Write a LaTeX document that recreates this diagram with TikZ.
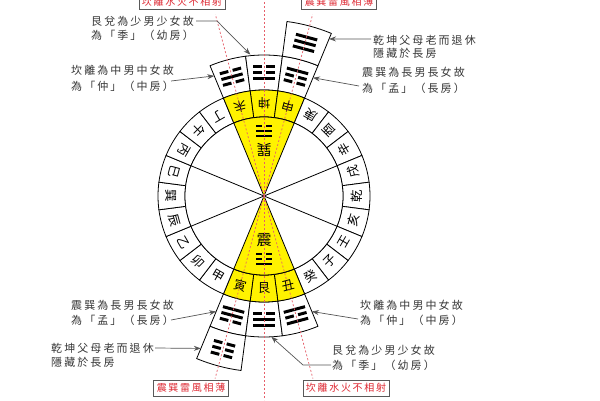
\documentclass[tikz,border=0pt]{standalone}
\usepackage{fontspec}
\setmainfont{Noto Sans CJK TC}
\newfontfamily\annfont{Noto Sans CJK TC}[LetterSpace=19]
\newfontfamily\boxfont{Noto Sans CJK TC}[LetterSpace=17]
\usetikzlibrary{calc,arrows.meta}
\definecolor{yel}{RGB}{255,242,0}
\definecolor{dotred}{RGB}{230,95,105}
\definecolor{boxred}{RGB}{222,40,50}
\definecolor{anngray}{RGB}{55,55,55}
\definecolor{arrgray}{RGB}{85,85,85}
\newcommand\tgl[4]{%
\ifnum#2=1 \fill (-#3,#1-#4) rectangle (#3,#1+#4);%
\else \fill (-#3,#1-#4) rectangle (-#3*0.2,#1+#4); \fill (#3*0.2,#1-#4) rectangle (#3,#1+#4);\fi}
\newcommand\trig[8]{%
\begin{scope}[shift={($(C)+(#1:#2)$)}, rotate=#1+90]
\tgl{-#4}{#6}{#3}{#5}\tgl{0}{#7}{#3}{#5}\tgl{#4}{#8}{#3}{#5}
\end{scope}}
\begin{document}
\begin{tikzpicture}[x=1pt,y=1pt,
  ringtxt/.style={font=\fontsize{12.5}{12.5}\selectfont, inner sep=0pt},
  disctxt/.style={font=\fontsize{15}{15}\selectfont, inner sep=0pt},
  ann/.style={font=\annfont\fontsize{11}{11}\selectfont, text=anngray, anchor=west, inner sep=0pt},
  redbox/.style={draw=black!65, fill=white, line width=0.6pt, font=\boxfont\fontsize{10}{10}\selectfont, text=boxred, minimum height=16pt, inner xsep=3pt, inner ysep=0pt},
  pointer/.style={draw=arrgray, line width=0.7pt, -{Stealth[length=7pt,width=5pt]}},
  dotline/.style={draw=dotred, line width=0.7pt, dash pattern=on 2pt off 2pt},
  cell/.style={draw=black, line width=0.8pt},
]
\useasboundingbox (0,0) rectangle (600,400);
\fill[white] (0,0) rectangle (600,400);
\coordinate (C) at (264,204);

% trigram boxes
\foreach \a/\ri/\ro in {105/106/141, 90/106/141, 75/106/141, 75/141/176, -105/106/141, -90/106/141, -75/106/141, -105/141/176} {
  \filldraw[cell, fill=white] ($(C)+(\a-7.5:\ri)$) -- ($(C)+(\a-7.5:\ro)$) arc[start angle=\a-7.5, end angle=\a+7.5, radius=\ro pt] -- ($(C)+(\a+7.5:\ri)$) arc[start angle=\a+7.5, end angle=\a-7.5, radius=\ri pt] -- cycle;
}

% ring of 24 mountains
\foreach \a/\t/\f [count=\i] in {90/坤/yel, 75/申/yel, 60/庚/white, 45/酉/white, 30/辛/white, 15/戌/white, 0/乾/white, -15/亥/white, -30/壬/white, -45/子/white, -60/癸/white, -75/丑/yel, -90/艮/yel, -105/寅/yel, -120/甲/white, -135/卯/white, -150/乙/white, -165/辰/white, -180/巽/white, -195/巳/white, -210/丙/white, -225/午/white, -240/丁/white, -255/未/yel} {
  \filldraw[cell, fill=\f] ($(C)+(\a-7.5:79)$) -- ($(C)+(\a-7.5:106)$) arc[start angle=\a-7.5, end angle=\a+7.5, radius=106pt] -- ($(C)+(\a+7.5:79)$) arc[start angle=\a+7.5, end angle=\a-7.5, radius=79pt] -- cycle;
  \node[ringtxt, rotate=\a+90] (m\i) at ($(C)+(\a:92.5)$) {\t};
}

% inner disc
\filldraw[cell, fill=white] (C) circle[radius=79pt];
\filldraw[cell, fill=yel] (C) -- ($(C)+(67.5:79)$) arc[start angle=67.5, end angle=112.5, radius=79pt] -- cycle;
\filldraw[cell, fill=yel] (C) -- ($(C)+(247.5:79)$) arc[start angle=247.5, end angle=292.5, radius=79pt] -- cycle;
\foreach \a in {22.5,157.5,202.5,337.5} \draw[cell] (C) -- ($(C)+(\a:79)$);

\node[disctxt, rotate=180] (xun) at ($(C)+(90:46)$) {巽};
\node[disctxt] (zhen) at ($(C)+(270:44)$) {震};

% trigrams
\trig{105}{123.5}{11}{6}{1.5}{0}{1}{0}
\trig{90}{123.5}{11}{6}{1.5}{0}{0}{1}
\trig{75}{123.5}{11}{6}{1.5}{1}{0}{0}
\trig{75}{158.5}{11}{6}{1.5}{1}{1}{1}
\trig{-105}{123.5}{11}{6}{1.5}{0}{1}{1}
\trig{-90}{123.5}{11}{6}{1.5}{1}{1}{0}
\trig{-75}{123.5}{11}{6}{1.5}{1}{0}{1}
\trig{-105}{158.5}{11}{6}{1.5}{0}{0}{0}
\trig{90}{65}{8}{4.8}{1.2}{0}{1}{1}
\trig{-90}{63}{8}{4.8}{1.2}{1}{0}{0}

% red boxes
\node[redbox] (rbTL) at (182,398.5) {坎離水火不相射};
\node[redbox] (rbTR) at (339,398.5) {震巽雷風相薄};
\node[redbox] (rbBL) at (191,12) {震巽雷風相薄};
\node[redbox] (rbBR) at (346,12) {坎離水火不相射};

% dotted radial lines
\coordinate (d1) at ($(C)+(105:188)$);
\coordinate (d2) at ($(C)+(90:200)$);
\coordinate (d3) at ($(C)+(75:188)$);
\coordinate (d4) at ($(C)+(255:189)$);
\coordinate (d5) at ($(C)+(270:204)$);
\coordinate (d6) at ($(C)+(285:189)$);
\foreach \d in {d1,d2,d3,d4,d5,d6} \draw[dotline] (C) -- (\d);

% annotations
\node[ann] (TL1) at (91,379) {艮兌為少男少女故};
\node[ann] (TL2) at (91,365) {為「季」（幼房）};
\node[ann] (TL3) at (71,330) {坎離為中男中女故};
\node[ann] (TL4) at (71,314) {為「仲」（中房）};
\node[ann] (TR1) at (373,360) {乾坤父母老而退休};
\node[ann] (TR2) at (373,347) {隱藏於長房};
\node[ann] (TR3) at (362,328) {震巽為長男長女故};
\node[ann] (TR4) at (362,312) {為「孟」（長房）};
\node[ann] (BL1) at (71,95) {震巽為長男長女故};
\node[ann] (BL2) at (71,80) {為「孟」（長房）};
\node[ann] (BL3) at (51,52) {乾坤父母老而退休};
\node[ann] (BL4) at (51,38) {隱藏於長房};
\node[ann] (BR1) at (360,95) {坎離為中男中女故};
\node[ann] (BR2) at (360,80) {為「仲」（中房）};
\node[ann] (BR3) at (332,50) {艮兌為少男少女故};
\node[ann] (BR4) at (332,35) {為「季」（幼房）};

% arrow targets
\coordinate (tA) at ($(C)+(95.5:142)$);
\coordinate (tB) at ($(C)+(112.5:130)$);
\coordinate (tC) at ($(C)+(67.5:170)$);
\coordinate (tD) at ($(C)+(67.5:128)$);
\coordinate (tE) at ($(C)+(247.5:125)$);
\coordinate (tF) at ($(C)+(247.5:165)$);
\coordinate (tG) at ($(C)+(292.5:125)$);
\coordinate (tH) at ($(C)+(273:141)$);

\draw[pointer] ($(TL1.east)+(2,0)$) -- ++(21,0) -- (tA);
\draw[pointer] ($(TL4.east)+(-3,5)$) -- (tB);
\draw[pointer] ($(TR1.west)+(-2,1)$) -- (tC);
\draw[pointer] ($(TR4.west)+(-3,2)$) -- (tD);
\draw[pointer] ($(BL2.east)+(-3,0)$) -- (tE);
\draw[pointer] ($(BL3.east)+(1,0)$) -- (tF);
\draw[pointer] ($(BR2.west)+(-2,1)$) -- (tG);
\draw[pointer] ($(BR4.west)+(-1,0)$) -- ++(-28,0) -- (tH);
\end{tikzpicture}
\end{document}
